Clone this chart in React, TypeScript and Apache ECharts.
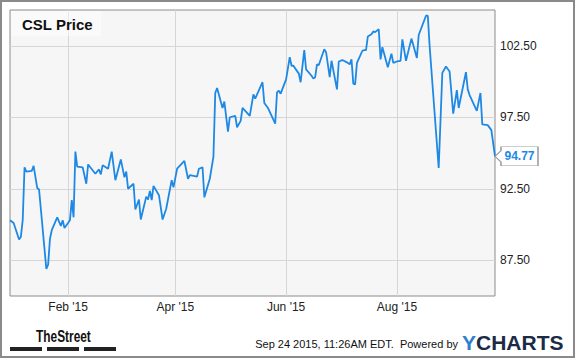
import React, { useEffect, useRef } from 'react';
import * as echarts from 'echarts';

// ---- data ----
const dates: string[] = [
  '2014-12-31','2015-01-02','2015-01-05','2015-01-06','2015-01-07','2015-01-08','2015-01-09','2015-01-12','2015-01-13','2015-01-15',
  '2015-01-16','2015-01-20','2015-01-21','2015-01-22','2015-01-23','2015-01-26','2015-01-28','2015-01-29','2015-01-30','2015-02-02',
  '2015-02-03','2015-02-04','2015-02-05','2015-02-06','2015-02-09','2015-02-11','2015-02-12','2015-02-16','2015-02-18','2015-02-19',
  '2015-02-20','2015-02-23','2015-02-25','2015-02-27','2015-03-02','2015-03-04','2015-03-05','2015-03-06','2015-03-09','2015-03-10',
  '2015-03-12','2015-03-13','2015-03-16','2015-03-17','2015-03-18','2015-03-19','2015-03-20','2015-03-23','2015-03-25','2015-03-27',
  '2015-03-30','2015-03-31','2015-04-02','2015-04-06','2015-04-08','2015-04-09','2015-04-13','2015-04-14','2015-04-16','2015-04-17',
  '2015-04-20','2015-04-22','2015-04-23','2015-04-24','2015-04-27','2015-04-28','2015-04-30','2015-05-01','2015-05-04','2015-05-05',
  '2015-05-07','2015-05-08','2015-05-12','2015-05-14','2015-05-15','2015-05-19','2015-05-20','2015-05-22','2015-05-26','2015-05-27',
  '2015-05-28','2015-05-29','2015-06-01','2015-06-03','2015-06-04','2015-06-05','2015-06-08','2015-06-09','2015-06-11','2015-06-12',
  '2015-06-15','2015-06-16','2015-06-17','2015-06-18','2015-06-19','2015-06-22','2015-06-23','2015-06-25','2015-06-26','2015-06-29',
  '2015-06-30','2015-07-02','2015-07-05','2015-07-06','2015-07-07','2015-07-08','2015-07-09','2015-07-10','2015-07-13','2015-07-14',
  '2015-07-15','2015-07-16','2015-07-18','2015-07-19','2015-07-20','2015-07-22','2015-07-23','2015-07-24','2015-07-27','2015-07-29',
  '2015-07-30','2015-08-01','2015-08-03','2015-08-04','2015-08-06','2015-08-09','2015-08-12','2015-08-13','2015-08-17','2015-08-18',
  '2015-08-19','2015-08-24','2015-08-26','2015-08-28','2015-08-30','2015-09-01','2015-09-03','2015-09-04','2015-09-08','2015-09-09',
  '2015-09-10','2015-09-14','2015-09-16','2015-09-17','2015-09-20','2015-09-22','2015-09-24',
];

const prices: number[] = [
  90.3, 90.1, 88.95, 89.15, 90.3, 94.0, 93.7, 93.75, 94.1, 92.55,
  92.45, 86.9, 87.2, 89.0, 89.6, 90.5, 89.9, 90.3, 89.75, 90.3,
  91.7, 90.5, 95.1, 94.05, 94.0, 92.85, 94.2, 93.55, 93.85, 93.5,
  94.15, 93.9, 95.1, 93.1, 94.55, 93.3, 93.7, 92.5, 92.85, 91.05,
  91.75, 90.35, 91.95, 91.75, 92.35, 91.7, 92.7, 92.05, 90.35, 91.1,
  93.1, 92.6, 93.9, 94.45, 93.2, 93.45, 93.35, 93.9, 94.0, 91.9,
  93.2, 94.75, 99.2, 99.55, 98.15, 98.6, 96.5, 97.5, 97.6, 96.8,
  97.25, 98.15, 97.6, 99.1, 98.8, 99.95, 98.5, 98.15, 97.05, 99.25,
  99.35, 99.15, 100.15, 101.7, 101.1, 101.1, 100.55, 99.95, 102.2, 100.85,
  100.4, 100.2, 100.3, 101.2, 101.15, 102.25, 102.05, 100.3, 101.45, 99.45,
  101.4, 101.5, 101.3, 101.2, 101.55, 99.85, 99.8, 101.3, 102.15, 102.2,
  102.2, 103.15, 103.3, 103.5, 103.45, 103.65, 101.55, 102.4, 101.0, 101.95,
  101.3, 101.4, 101.45, 102.95, 101.45, 103.0, 101.65, 103.25, 104.6, 104.6,
  102.5, 93.95, 100.6, 101.05, 100.7, 97.75, 99.4, 98.15, 100.65, 99.45,
  99.05, 97.95, 99.2, 97.0, 96.95, 96.6, 94.77,
];

const xTickDates: string[] = ['2015-02-01', '2015-04-01', '2015-06-01', '2015-08-01'];
const yTicks: number[] = [87.5, 92.5, 97.5, 102.5];
const MONTHS = ['Jan', 'Feb', 'Mar', 'Apr', 'May', 'Jun', 'Jul', 'Aug', 'Sep', 'Oct', 'Nov', 'Dec'];

const titleText = 'CSL Price';
const footerText = 'Sep 24 2015, 11:26AM EDT.  Powered by';

const FONT = '"Liberation Sans", Arial, Helvetica, sans-serif';
const LINE_COLOR = '#1e88e5';

function toTs(s: string): number {
  const [y, m, d] = s.split('-').map(Number);
  return new Date(y, m - 1, d).getTime();
}

export default function App() {
  const ref = useRef<HTMLDivElement>(null);

  useEffect(() => {
    if (!ref.current) return;
    const chart = echarts.init(ref.current, undefined, { renderer: 'svg' });
    const data = dates.map((d, i) => [toTs(d), prices[i]]);
    const last = data[data.length - 1];
    const xTicks = xTickDates.map(toTs);

    chart.setOption({
      animation: false,
      backgroundColor: '#ffffff',
      grid: {
        left: 10,
        top: 10,
        right: 80,
        bottom: 62,
        show: true,
        backgroundColor: '#f6f6f6',
        borderColor: '#8c8c8c',
        borderWidth: 1,
      },
      xAxis: {
        type: 'value',
        min: toTs(dates[0]),
        max: toTs(dates[dates.length - 1]),
        axisLine: { show: false },
        axisTick: { show: false, customValues: xTicks },
        splitLine: { show: true, lineStyle: { color: '#d6d6d6', width: 1 } },
        axisLabel: {
          customValues: xTicks,
          color: '#222',
          fontFamily: FONT,
          fontSize: 12,
          margin: 5,
          hideOverlap: false,
          formatter: (v: number) => {
            const d = new Date(v);
            return `${MONTHS[d.getMonth()]} '${String(d.getFullYear()).slice(2)}`;
          },
        },
      },
      yAxis: {
        type: 'value',
        position: 'right',
        min: 85,
        max: 105,
        axisLine: { show: false },
        axisTick: { show: false, customValues: yTicks },
        splitLine: { show: true, lineStyle: { color: '#d6d6d6', width: 1 } },
        axisLabel: {
          customValues: yTicks,
          color: '#222',
          fontFamily: FONT,
          fontSize: 12,
          margin: 5,
          formatter: (v: number) => v.toFixed(2),
        },
      },
      series: [
        {
          type: 'line',
          data,
          showSymbol: false,
          symbol: 'none',
          lineStyle: { color: LINE_COLOR, width: 1.8 },
          z: 3,
          markPoint: {
            symbol: 'path://M0,10L6,4L6,0L43,0L43,20L6,20L6,16Z',
            symbolSize: [43, 19],
            symbolOffset: ['50%', 0],
            symbolKeepAspect: false,
            itemStyle: { color: '#ffffff', borderColor: '#999999', borderWidth: 1 },
            label: {
              show: true,
              position: 'inside',
              offset: [3, 0],
              color: LINE_COLOR,
              fontWeight: 'bold',
              fontSize: 12,
              fontFamily: FONT,
              formatter: () => (last[1] as number).toFixed(2),
            },
            data: [{ coord: last, value: last[1] }],
          },
        },
      ],
      graphic: [
        {
          type: 'rect',
          z: 100,
          shape: { x: 1, y: 1, width: 573, height: 356 },
          style: { fill: 'none', stroke: '#8a8a8a', lineWidth: 2 },
        },
        {
          type: 'rect',
          z: 50,
          shape: { x: 11, y: 11, width: 90, height: 25 },
          style: { fill: 'rgba(255,255,255,0.45)' },
        },
        {
          type: 'text',
          z: 51,
          x: 22,
          y: 24,
          style: {
            text: titleText,
            font: `bold 15px ${FONT}`,
            fill: '#111111',
            textVerticalAlign: 'middle',
          },
        },
        {
          type: 'text',
          z: 51,
          x: 36,
          y: 336,
          scaleX: 0.7,
          style: {
            text: 'TheStreet',
            font: `bold 17px ${FONT}`,
            fill: '#111111',
            textVerticalAlign: 'middle',
          },
        },
        { type: 'rect', z: 51, shape: { x: 10, y: 347, width: 32, height: 4 }, style: { fill: '#222' } },
        { type: 'rect', z: 51, shape: { x: 47, y: 347, width: 32, height: 4 }, style: { fill: '#222' } },
        { type: 'rect', z: 51, shape: { x: 84, y: 347, width: 32, height: 4 }, style: { fill: '#222' } },
        {
          type: 'text',
          z: 51,
          x: 458,
          y: 344,
          style: {
            text: footerText,
            font: `11px ${FONT}`,
            fill: '#111111',
            textAlign: 'right',
            textVerticalAlign: 'middle',
          },
        },
        {
          type: 'text',
          z: 51,
          x: 462,
          y: 342,
          style: {
            text: '{y|Y}{c|CHARTS}',
            textVerticalAlign: 'middle',
            rich: {
              y: { font: `bold 21px ${FONT}`, fill: '#2f7fd0' },
              c: { font: `bold 21px ${FONT}`, fill: '#1c2b45' },
            },
          },
        },
      ],
    });

    return () => chart.dispose();
  }, []);

  return (
    <div
      ref={ref}
      style={{ position: 'absolute', left: 0, top: 0, width: 575, height: 358, background: '#fff' }}
    />
  );
}
